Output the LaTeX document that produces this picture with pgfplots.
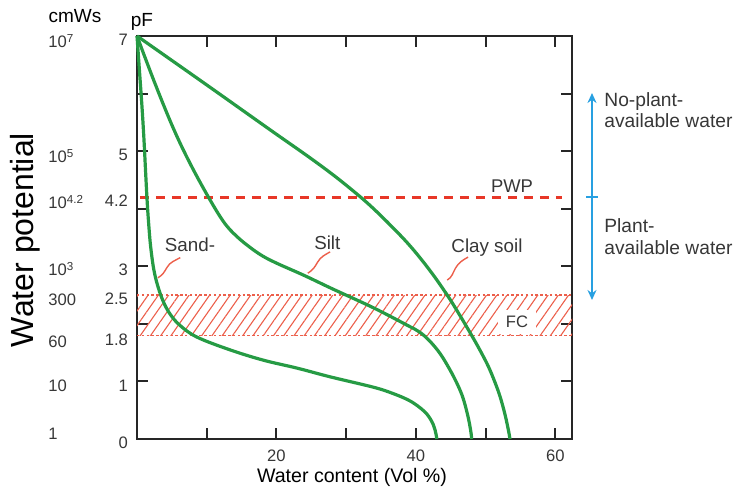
\documentclass[border=0pt]{standalone}
\usepackage{pgfplots}
\pgfplotsset{compat=1.18}
\usepackage{fontspec}
\setmainfont{Liberation Sans}
\usetikzlibrary{patterns.meta,arrows.meta}
\definecolor{soilgreen}{RGB}{38,155,68}
\definecolor{pwpred}{RGB}{232,55,40}
\definecolor{hatchred}{RGB}{236,95,75}
\definecolor{arrowblue}{RGB}{40,160,225}
\definecolor{txt}{RGB}{55,55,55}

\pgfplotstableread{
x y
0 7
10 6.15
19.1 5.37
24.4 4.92
28.0 4.60
30.8 4.33
33.4 4.06
36.3 3.72
39.2 3.35
42.0 2.93
44.5 2.50
46.3 2.15
48.1 1.78
49.3 1.52
50.4 1.26
51.3 1.00
52.1 0.73
52.8 0.42
53.3 0.14
53.5 0.0
}\clay

\pgfplotstableread{
x y
0 7
2.5 6.2
5.2 5.4
7.6 4.79
10.3 4.19
12.5 3.76
14.3 3.52
16.2 3.33
18.0 3.18
20.1 3.05
24.0 2.84
28.0 2.61
33.9 2.28
38.7 1.98
40.5 1.86
42.0 1.70
43.5 1.48
44.9 1.20
46.0 0.94
46.8 0.70
47.5 0.38
47.9 0.12
48.0 0.0
}\silt

\pgfplotstableread{
x y
0 7
0.35 6.4
0.7 5.8
1.0 5.2
1.25 4.6
1.47 4.1
1.7 3.7
1.95 3.35
2.4 2.95
3.0 2.65
3.8 2.38
4.8 2.16
6.2 1.97
8.6 1.77
13.3 1.55
18.1 1.37
23.0 1.23
27.7 1.08
33.9 0.90
36.5 0.80
38.7 0.69
40.2 0.58
41.6 0.43
42.5 0.25
42.9 0.08
43.0 0.0
}\sand

\begin{document}
\begin{tikzpicture}[x=1pt,y=1pt,font=\color{txt}]
\begin{axis}[
  at={(68.5pt,26.5pt)}, anchor=south west,
  scale only axis, width=217.5pt, height=201.5pt,
  xmin=0, xmax=62.4, ymin=0, ymax=7,
  axis line style={line width=1.1pt, black!85},
  tick pos=both, tick align=inside,
  major tick length=5.5pt,
  every tick/.style={line width=1pt, black!85},
  xtick={10,20,30,40,50,60}, xticklabels={,20,,40,,60},
  ytick={0,1,2,3,4,5,6,7}, yticklabels={0,1,,3,,5,,7},
  extra y ticks={1.8,2.5,4.2}, extra y tick labels={1.8,2.5,4.2},
  extra y tick style={major tick length=0pt},
  ticklabel style={font=\fontsize{8.3}{9}\selectfont\color{txt}},
  yticklabel style={xshift=-1pt, yshift=-2pt},
  xticklabel style={yshift=-2pt},
  clip=false,
]
% FC band
\fill[pattern={Lines[angle=55,distance=4.2pt,line width=0.55pt]}, pattern color=hatchred]
  (axis cs:0,1.8) rectangle (axis cs:62.4,2.5);
\draw[hatchred, line width=0.6pt, dash pattern=on 1.2pt off 1.2pt] (axis cs:0,2.5) -- (axis cs:62.4,2.5);
\draw[hatchred, line width=0.6pt, dash pattern=on 1.2pt off 1.2pt] (axis cs:0,1.8) -- (axis cs:62.4,1.8);
% PWP
\draw[pwpred, line width=1.5pt, dash pattern=on 4.5pt off 3.5pt] (axis cs:0.4,4.2) -- (axis cs:61,4.2);
% curves
\addplot[soilgreen, line width=1.6pt, smooth, tension=0.6] table {\clay};
\addplot[soilgreen, line width=1.6pt, smooth, tension=0.6] table {\silt};
\addplot[soilgreen, line width=1.6pt, smooth, tension=0.6] table {\sand};
% labels
\node[font=\fontsize{9.4}{10}\selectfont\color{txt}] at (axis cs:7.6,3.37) {Sand-};
\node[font=\fontsize{9.4}{10}\selectfont\color{txt}] at (axis cs:27.3,3.40) {Silt};
\node[font=\fontsize{9.4}{10}\selectfont\color{txt}] at (axis cs:50.2,3.33) {Clay soil};
\node[font=\fontsize{9.2}{10}\selectfont\color{txt}] at (axis cs:53.8,4.40) {PWP};
\node[fill=white, inner xsep=4pt, inner ysep=3pt, font=\fontsize{8.3}{9}\selectfont\color{txt}] at (axis cs:54.5,2.03) {FC};
% leaders
\draw[hatchred, line width=0.7pt] (axis cs:6.2,3.15) to[out=210,in=60] (axis cs:4.3,2.98) to[out=240,in=30] (axis cs:3.0,2.80);
\draw[hatchred, line width=0.7pt] (axis cs:27.7,3.25) to[out=210,in=60] (axis cs:25.9,3.07) to[out=240,in=30] (axis cs:24.5,2.88);
\draw[hatchred, line width=0.7pt] (axis cs:47.5,3.16) to[out=210,in=60] (axis cs:45.7,2.97) to[out=240,in=30] (axis cs:44.5,2.76);
\end{axis}
% outer text
\node[font=\fontsize{9.5}{10}\selectfont] at (37.5pt,238pt) {cmWs};
\node[font=\fontsize{9.5}{10}\selectfont] at (71pt,235pt) {pF};
\begin{scope}[every node/.style={anchor=base west, font=\fontsize{8.3}{9}\selectfont\color{txt}, inner sep=0pt}]
\node at (24pt,222pt) {10\textsuperscript{7}};
\node at (24pt,164.5pt) {10\textsuperscript{5}};
\node at (24pt,141.5pt) {10\textsuperscript{4.2}};
\node at (24pt,108pt) {10\textsuperscript{3}};
\node at (24pt,93pt) {300};
\node at (24pt,72pt) {60};
\node at (24pt,50pt) {10};
\node at (24pt,26pt) {1};
\end{scope}
\node[rotate=90, font=\fontsize{16}{18}\selectfont] at (12.5pt,126pt) {Water potential};
\node[font=\fontsize{9.8}{11}\selectfont] at (176pt,7.5pt) {Water content (Vol \%)};
% right annotation
\draw[arrowblue, line width=1.1pt, {Stealth[length=5pt,width=4.5pt]}-{Stealth[length=5pt,width=4.5pt]}] (296pt,96pt) -- (296pt,199.5pt);
\draw[arrowblue, line width=0.8pt] (293pt,147.5pt) -- (299pt,147.5pt);
\begin{scope}[every node/.style={anchor=base west, font=\fontsize{9.6}{11}\selectfont\color{txt}, inner sep=0pt}]
\node at (302pt,192.5pt) {No-plant-};
\node at (302pt,182pt) {available water};
\node at (302pt,129.5pt) {Plant-};
\node at (302pt,118.5pt) {available water};
\end{scope}
\pgfresetboundingbox
\useasboundingbox (0,0) rectangle (367.5pt,246pt);
\end{tikzpicture}
\end{document}
